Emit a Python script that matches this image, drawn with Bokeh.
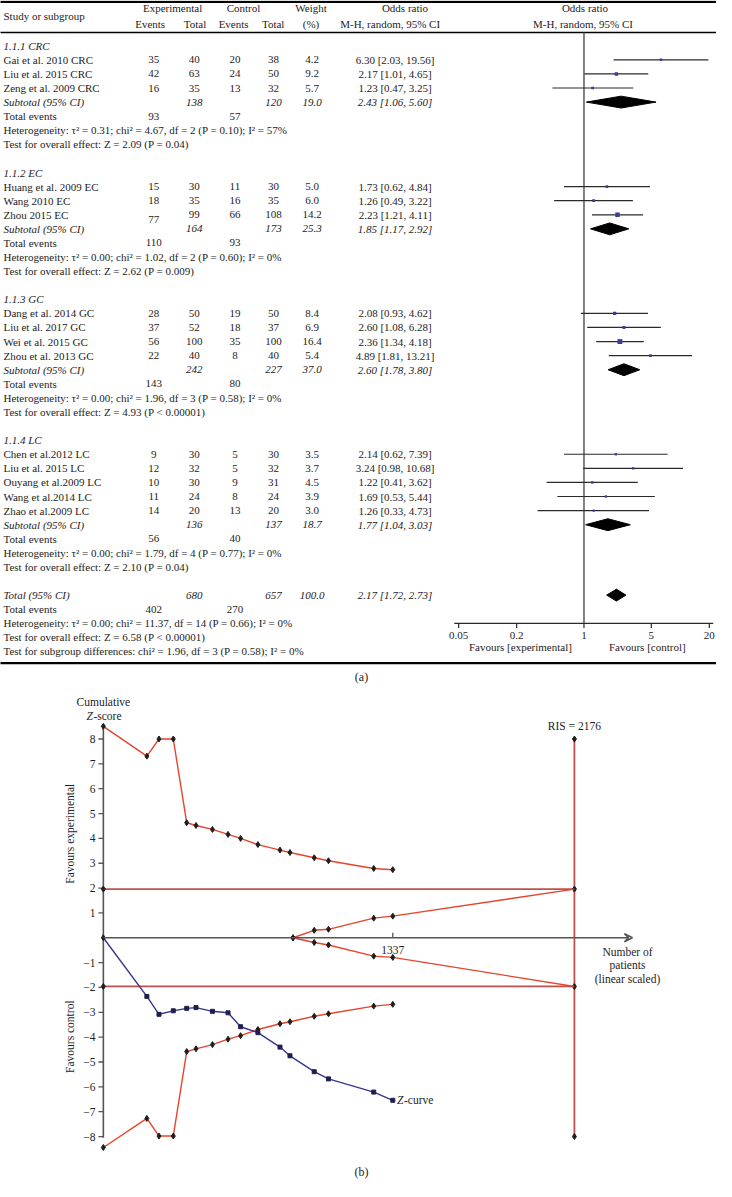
import numpy as np
from bokeh.plotting import figure
from bokeh.models import Range1d, LogScale, LinearScale, ColumnDataSource, Arrow, VeeHead
from bokeh.core.properties import value
from bokeh.embed import file_html
from bokeh.resources import INLINE

# ---------------- DATA: forest plot (a) ----------------
groups = ["1.1.1 CRC", "1.1.2 EC", "1.1.3 GC", "1.1.4 LC"]
group_sizes = [3, 3, 4, 5]
study = ["Gai et al. 2010 CRC", "Liu et al. 2015 CRC", "Zeng et al. 2009 CRC",
         "Huang et al. 2009 EC", "Wang 2010 EC", "Zhou 2015 EC",
         "Dang et al. 2014 GC", "Liu et al. 2017 GC", "Wei et al. 2015 GC", "Zhou et al. 2013 GC",
         "Chen et al.2012 LC", "Liu et al. 2015 LC", "Ouyang et al.2009 LC", "Wang et al.2014 LC",
         "Zhao et al.2009 LC"]
exp_events = [35, 42, 16, 15, 18, 77, 28, 37, 56, 22, 9, 12, 10, 11, 14]
exp_total = [40, 63, 35, 30, 35, 99, 50, 52, 100, 40, 30, 32, 30, 24, 20]
ctl_events = [20, 24, 13, 11, 16, 66, 19, 18, 35, 8, 5, 5, 9, 8, 13]
ctl_total = [38, 50, 32, 30, 35, 108, 50, 37, 100, 40, 30, 32, 31, 24, 20]
weight = [4.2, 9.2, 5.7, 5.0, 6.0, 14.2, 8.4, 6.9, 16.4, 5.4, 3.5, 3.7, 4.5, 3.9, 3.0]
or_est = [6.30, 2.17, 1.23, 1.73, 1.26, 2.23, 2.08, 2.60, 2.36, 4.89, 2.14, 3.24, 1.22, 1.69, 1.26]
or_lo = [2.03, 1.01, 0.47, 0.62, 0.49, 1.21, 0.93, 1.08, 1.34, 1.81, 0.62, 0.98, 0.41, 0.53, 0.33]
or_hi = [19.56, 4.65, 3.25, 4.84, 3.22, 4.11, 4.62, 6.28, 4.18, 13.21, 7.39, 10.68, 3.62, 5.44, 4.73]

sub_exp_total = [138, 164, 242, 136]
sub_ctl_total = [120, 173, 227, 137]
sub_weight = [19.0, 25.3, 37.0, 18.7]
sub_or = [2.43, 1.85, 2.60, 1.77]
sub_lo = [1.06, 1.17, 1.78, 1.04]
sub_hi = [5.60, 2.92, 3.80, 3.03]
sub_exp_events = [93, 110, 143, 56]
sub_ctl_events = [57, 93, 80, 40]
sub_het = ["Heterogeneity: \u03c4\u00b2 = 0.31; chi\u00b2 = 4.67, df = 2 (P = 0.10); I\u00b2 = 57%",
           "Heterogeneity: \u03c4\u00b2 = 0.00; chi\u00b2 = 1.02, df = 2 (P = 0.60); I\u00b2 = 0%",
           "Heterogeneity: \u03c4\u00b2 = 0.00; chi\u00b2 = 1.96, df = 3 (P = 0.58); I\u00b2 = 0%",
           "Heterogeneity: \u03c4\u00b2 = 0.00; chi\u00b2 = 1.79, df = 4 (P = 0.77); I\u00b2 = 0%"]
sub_test = ["Test for overall effect: Z = 2.09 (P = 0.04)",
            "Test for overall effect: Z = 2.62 (P = 0.009)",
            "Test for overall effect: Z = 4.93 (P < 0.00001)",
            "Test for overall effect: Z = 2.10 (P = 0.04)"]

tot_exp_total, tot_ctl_total, tot_weight = 680, 657, 100.0
tot_or, tot_lo, tot_hi = 2.17, 1.72, 2.73
tot_exp_events, tot_ctl_events = 402, 270
tot_het = "Heterogeneity: \u03c4\u00b2 = 0.00; chi\u00b2 = 11.37, df = 14 (P = 0.66); I\u00b2 = 0%"
tot_test = "Test for overall effect: Z = 6.58 (P < 0.00001)"
subgroup_test = "Test for subgroup differences: chi\u00b2 = 1.96, df = 3 (P = 0.58); I\u00b2 = 0%"

or_ticks = [0.05, 0.2, 1, 5, 20]
or_tick_labels = ["0.05", "0.2", "1", "5", "20"]

# ---------------- DATA: trial sequential analysis (b) ----------------
n_cum = [0, 201, 257, 323, 385, 428, 504, 576, 634, 714, 816, 862, 974, 1040, 1249, 1337]
z_curve = [0, -2.36, -3.08, -2.94, -2.84, -2.81, -2.96, -3.02, -3.58, -3.82, -4.40, -4.75,
           -5.39, -5.68, -6.21, -6.54]
upper_bound = [8.51, 7.31, 8.0, 8.0, 4.63, 4.52, 4.36, 4.16, 4.00, 3.75, 3.53, 3.43, 3.22, 3.10, 2.79, 2.74]
lower_bound = [-8.44, -7.27, -7.98, -7.98, -4.58, -4.47, -4.30, -4.08, -3.94, -3.69, -3.46, -3.38,
               -3.16, -3.06, -2.75, -2.68]
fut_n = [876, 974, 1040, 1249, 1337, 2176]
fut_upper = [0, 0.30, 0.34, 0.79, 0.87, 1.96]
fut_lower = [0, -0.19, -0.29, -0.74, -0.79, -1.96]
ris = 2176
conv_z = 1.96
ris_z = [8, 1.96, -1.96, -8]
z_ticks = [8, 7, 6, 5, 4, 3, 2, 1, -1, -2, -3, -4, -5, -6, -7, -8]
z_tick_labels = [str(t) if t > 0 else "\u2212" + str(-t) for t in z_ticks]
n_ticks = [1337]
n_tick_labels = ["1337"]

# ---------------- LAYOUT ----------------
W, H = 716, 1180
XR = (1.0, 725.0)
YR = (1192.0, 0.0)
FONT = value("Liberation Serif")
TXT = "#1e1c1d"

# forest-plot scale anchors (layout, reference pixel space)
OR1_X, OR_DEC = 591.0, 97.4
# TSA scale anchors
N0_X, N_PX = 105.0, 0.2189
Z0_Y, Z_PX = 946.8, 25.1

p = figure(width=W, height=H, output_backend="svg", toolbar_location=None,
           x_range=Range1d(*XR), y_range=Range1d(*YR), min_border=0,
           x_axis_location=None, y_axis_location=None)
p.grid.grid_line_color = None
p.outline_line_color = None
p.background_fill_color = "white"

p.extra_x_ranges = {
    "or": Range1d(10 ** ((XR[0] - OR1_X) / OR_DEC), 10 ** ((XR[1] - OR1_X) / OR_DEC)),
    "n": Range1d((XR[0] - N0_X) / N_PX, (XR[1] - N0_X) / N_PX),
}
p.extra_x_scales = {"or": LogScale(), "n": LinearScale()}
p.extra_y_ranges = {"z": Range1d(start=(Z0_Y - YR[0]) / Z_PX, end=(Z0_Y - YR[1]) / Z_PX)}


def add_text(xs, ys, texts, align="left", style="normal", size="11px", color=TXT,
             xr=None, yr=None, angle=0.0):
    src = ColumnDataSource(dict(x=list(xs), y=list(ys), t=list(texts)))
    kw = {}
    if xr:
        kw["x_range_name"] = xr
    if yr:
        kw["y_range_name"] = yr
    p.text("x", "y", text="t", source=src, text_align=align, text_baseline="middle",
           text_font=FONT, text_font_size=size, text_font_style=style, text_color=color,
           angle=angle, **kw)


# ---------------- (a) forest plot ----------------
ROW0, ROWH = 45.7, 14.23
LABEL_X = 4
C_EE, C_ET, C_CE, C_CT, C_W, C_CI = 156, 197, 238, 277, 316, 400


def ry(i):
    return ROW0 + i * ROWH


# rules
p.segment(x0=[0, 0, 0], y0=[1.3, 32.3, 669.3], x1=[732, 732, 732], y1=[1.3, 32.3, 669.3],
          line_color="black", line_width=[2.2, 1.5, 2.2])

# header
add_text([LABEL_X], [16], ["Study or subgroup"])
add_text([175, 246.7, 315, 410, 592], [7.8] * 5,
         ["Experimental", "Control", "Weight", "Odds ratio", "Odds ratio"], align="center")
add_text([152.3, 197.7, 236.7, 276.7, 315, 395, 590], [23.5] * 7,
         ["Events", "Total", "Events", "Total", "(%)", "M-H, random, 95% CI", "M-H, random, 95% CI"],
         align="center")

nl_x, nl_y, nl_t = [], [], []       # normal left
il_x, il_y, il_t = [], [], []       # italic left
nc_x, nc_y, nc_t = [], [], []       # normal centered
ic_x, ic_y, ic_t = [], [], []       # italic centered
st_y, sub_y = [], []

r = 0
k = 0
for g, gname in enumerate(groups):
    il_x.append(LABEL_X); il_y.append(ry(r)); il_t.append(gname)
    r += 1
    for _ in range(group_sizes[g]):
        y = ry(r)
        st_y.append(y)
        nl_x.append(LABEL_X); nl_y.append(y); nl_t.append(study[k])
        ee_y = y + 5 if study[k] == "Zhou 2015 EC" else y
        nc_x += [C_EE, C_ET, C_CE, C_CT, C_W, C_CI]
        nc_y += [ee_y, y, y, y, y, y]
        nc_t += [str(exp_events[k]), str(exp_total[k]), str(ctl_events[k]), str(ctl_total[k]),
                 f"{weight[k]:.1f}", f"{or_est[k]:.2f} [{or_lo[k]:.2f}, {or_hi[k]:.2f}]"]
        k += 1
        r += 1
    y = ry(r)
    sub_y.append(y)
    il_x.append(LABEL_X); il_y.append(y); il_t.append("Subtotal (95% CI)")
    ic_x += [C_ET, C_CT, C_W, C_CI]
    ic_y += [y] * 4
    ic_t += [str(sub_exp_total[g]), str(sub_ctl_total[g]), f"{sub_weight[g]:.1f}",
             f"{sub_or[g]:.2f} [{sub_lo[g]:.2f}, {sub_hi[g]:.2f}]"]
    r += 1
    nl_x.append(LABEL_X); nl_y.append(ry(r)); nl_t.append("Total events")
    nc_x += [C_EE, C_CE]; nc_y += [ry(r)] * 2
    nc_t += [str(sub_exp_events[g]), str(sub_ctl_events[g])]
    r += 1
    nl_x += [LABEL_X, LABEL_X]; nl_y += [ry(r), ry(r + 1)]; nl_t += [sub_het[g], sub_test[g]]
    r += 3

# overall
y = ry(r)
tot_y = y
il_x.append(LABEL_X); il_y.append(y); il_t.append("Total (95% CI)")
ic_x += [C_ET, C_CT, C_W, C_CI]
ic_y += [y] * 4
ic_t += [str(tot_exp_total), str(tot_ctl_total), f"{tot_weight:.1f}",
         f"{tot_or:.2f} [{tot_lo:.2f}, {tot_hi:.2f}]"]
r += 1
nl_x.append(LABEL_X); nl_y.append(ry(r)); nl_t.append("Total events")
nc_x += [C_EE, C_CE]; nc_y += [ry(r)] * 2
nc_t += [str(tot_exp_events), str(tot_ctl_events)]
r += 1
nl_x += [LABEL_X] * 3
nl_y += [ry(r), ry(r + 1), ry(r + 2)]
nl_t += [tot_het, tot_test, subgroup_test]

add_text(nl_x, nl_y, nl_t)
add_text(il_x, il_y, il_t, style="italic")
add_text(nc_x, nc_y, nc_t, align="center")
add_text(ic_x, ic_y, ic_t, align="center", style="italic")

# null line
p.segment(x0=[1], y0=[32.3], x1=[1], y1=[629.3], x_range_name="or",
          line_color="#5a5a5a", line_width=1.5)

# study CIs & squares
p.segment(x0=or_lo, y0=st_y, x1=or_hi, y1=st_y, x_range_name="or",
          line_color="#2a2a2a", line_width=1.2)
sq_size = [1.6 + 0.2 * w for w in weight]
p.scatter(x=or_est, y=st_y, size=sq_size, marker="square", x_range_name="or",
          fill_color="#3b3b98", line_color=None)

# diamonds
d_or = sub_or + [tot_or]
d_lo = sub_lo + [tot_lo]
d_hi = sub_hi + [tot_hi]
d_y = sub_y + [tot_y]
DH = 6.0
p.patches(xs=[[lo, m, hi, m] for lo, m, hi in zip(d_lo, d_or, d_hi)],
          ys=[[yy, yy - DH, yy, yy + DH] for yy in d_y],
          x_range_name="or", fill_color="black", line_color="black")

# forest axis
AX_Y = 629.3
p.segment(x0=[0.045], y0=[AX_Y], x1=[22], y1=[AX_Y], x_range_name="or",
          line_color="#2a2a2a", line_width=1.3)
p.segment(x0=or_ticks, y0=[AX_Y] * 5, x1=or_ticks, y1=[AX_Y + 4.5] * 5, x_range_name="or",
          line_color="#2a2a2a", line_width=1.2)
add_text(or_ticks, [641.7] * 5, or_tick_labels, align="center", xr="or")
add_text([526.7, 655], [653.3, 653.3], ["Favours [experimental]", "Favours [control]"], align="center")

add_text([366], [683], ["(a)"], align="center", size="12px")

# ---------------- (b) trial sequential analysis ----------------
AXC = "#555555"
BOUND = "#e8432b"
CONV = "#c0504d"
BLUE = "#35368f"
MK = "#1e1e1e"
MS = 6

# y axis
p.segment(x0=[0], y0=[-8.05], x1=[0], y1=[8.52], x_range_name="n", y_range_name="z",
          line_color=AXC, line_width=1.6)
TICK_N = 5.0 / N_PX
p.segment(x0=[-TICK_N] * len(z_ticks), y0=z_ticks, x1=[0] * len(z_ticks), y1=z_ticks,
          x_range_name="n", y_range_name="z", line_color=AXC, line_width=1.3)
add_text([97] * len(z_ticks), z_ticks, z_tick_labels, align="right", size="11.5px", yr="z")

# x axis with arrow
p.add_layout(Arrow(end=VeeHead(size=8, line_color=AXC, line_width=1.5, fill_color=None),
                   x_start=0, y_start=0, x_end=2444, y_end=0, x_range_name="n", y_range_name="z",
                   line_color=AXC, line_width=1.6))
p.segment(x0=n_ticks, y0=[0], x1=n_ticks, y1=[0.2], x_range_name="n", y_range_name="z",
          line_color=AXC, line_width=1.3)
add_text(n_ticks, [959.3], n_tick_labels, align="center", size="11.5px", xr="n")

# conventional boundaries & RIS
p.segment(x0=[0, 0], y0=[conv_z, -conv_z], x1=[ris, ris], y1=[conv_z, -conv_z],
          x_range_name="n", y_range_name="z", line_color=CONV, line_width=1.8)
p.segment(x0=[ris], y0=[min(ris_z)], x1=[ris], y1=[max(ris_z)],
          x_range_name="n", y_range_name="z", line_color=CONV, line_width=1.8)
p.scatter(x=[0, 0], y=[conv_z, -conv_z], marker="diamond", size=MS, color=MK,
          x_range_name="n", y_range_name="z")
p.scatter(x=[ris] * len(ris_z), y=ris_z, marker="diamond", size=MS, color=MK,
          x_range_name="n", y_range_name="z")

# monitoring boundaries
for yy in (upper_bound, lower_bound):
    p.line(n_cum, yy, x_range_name="n", y_range_name="z", line_color=BOUND, line_width=1.4)
    p.scatter(n_cum, yy, marker="diamond", size=MS, color=MK, x_range_name="n", y_range_name="z")
for yy in (fut_upper, fut_lower):
    p.line(fut_n, yy, x_range_name="n", y_range_name="z", line_color=BOUND, line_width=1.4)
    p.scatter(fut_n[:-1], yy[:-1], marker="diamond", size=MS, color=MK,
              x_range_name="n", y_range_name="z")

# Z-curve
p.line(n_cum, z_curve, x_range_name="n", y_range_name="z", line_color=BLUE, line_width=1.4)
p.scatter(n_cum[1:], z_curve[1:], marker="square", size=4, color="#1f1f4f",
          x_range_name="n", y_range_name="z")
p.scatter([0], [0], marker="diamond", size=MS, color=MK, x_range_name="n", y_range_name="z")

# labels
add_text([105], [708.3], ["Cumulative"], align="center", size="11.5px")
add_text([88], [722.7], ["Z"], style="italic", size="11.5px")
add_text([95], [722.7], ["-score"], size="11.5px")
add_text([ris], [732.7], [f"RIS = {ris}"], align="center", size="11.5px", xr="n")
add_text([71.7], [841.7], ["Favours experimental"], align="center", size="11.5px", angle=np.pi / 2)
add_text([71.7], [1046.7], ["Favours control"], align="center", size="11.5px", angle=np.pi / 2)
add_text([635] * 3, [960.7, 974.7, 988.7], ["Number of", "patients", "(linear scaled)"],
         align="center", size="11.5px")
add_text([402], [1111], ["Z"], style="italic", size="11.5px")
add_text([409], [1111], ["-curve"], size="11.5px")

add_text([366], [1183], ["(b)"], align="center", size="12px")

open("out.html", "w").write(file_html(p, INLINE))
